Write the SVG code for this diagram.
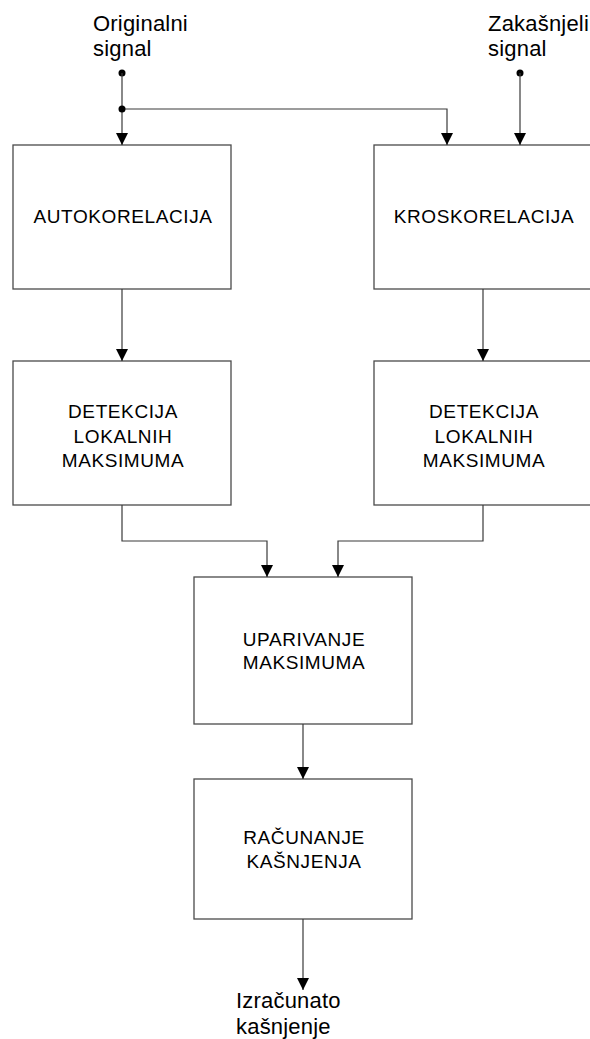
<svg xmlns="http://www.w3.org/2000/svg" width="590" height="1039" viewBox="0 0 590 1039">
  <style>
    .box { fill: #ffffff; stroke: #4a4a4a; stroke-width: 1.3; }
    .lbl { font-family: "Liberation Sans", Arial, sans-serif; font-size: 19px; letter-spacing: 0.6px; fill: #000; text-anchor: middle; }
    .io { font-family: "Liberation Sans", Arial, sans-serif; font-size: 22px; letter-spacing: 0.2px; fill: #000; }
    .wire { fill: none; stroke: #3a3a3a; stroke-width: 1.2; }
    .dot { fill: #000; }
  </style>
  <defs>
    <marker id="arrow" markerUnits="userSpaceOnUse" markerWidth="12" markerHeight="14" refX="12" refY="6" orient="auto">
      <path d="M0,0 L12,6 L0,12 Z" fill="#000"/>
    </marker>
  </defs>
  <rect width="590" height="1039" fill="#ffffff"/>

  <!-- input / output labels -->
  <g id="in-original">
    <text class="io" x="93" y="31">Originalni</text>
    <text class="io" x="93" y="56">signal</text>
    <circle class="dot" cx="122" cy="73" r="3.5"/>
  </g>
  <g id="in-delayed">
    <text class="io" x="488" y="31">Zakašnjeli</text>
    <text class="io" x="488" y="56">signal</text>
    <circle class="dot" cx="520" cy="73" r="3.5"/>
  </g>
  <g id="out-delay">
    <text class="io" x="236" y="1008">Izračunato</text>
    <text class="io" x="236" y="1034">kašnjenje</text>
  </g>

  <!-- processing blocks -->
  <g id="autokorelacija">
    <rect class="box" x="13" y="145" width="218" height="144"/>
    <text class="lbl" x="123" y="223">AUTOKORELACIJA</text>
  </g>
  <g id="kroskorelacija">
    <rect class="box" x="374" y="145" width="218" height="144"/>
    <text class="lbl" x="484" y="223">KROSKORELACIJA</text>
  </g>
  <g id="detekcija-a">
    <rect class="box" x="13" y="361" width="218" height="144"/>
    <text class="lbl" x="123" y="418">DETEKCIJA</text>
    <text class="lbl" x="123" y="443">LOKALNIH</text>
    <text class="lbl" x="123" y="467">MAKSIMUMA</text>
  </g>
  <g id="detekcija-k">
    <rect class="box" x="374" y="361" width="218" height="144"/>
    <text class="lbl" x="484" y="418">DETEKCIJA</text>
    <text class="lbl" x="484" y="443">LOKALNIH</text>
    <text class="lbl" x="484" y="467">MAKSIMUMA</text>
  </g>
  <g id="uparivanje">
    <rect class="box" x="194" y="577" width="218" height="147"/>
    <text class="lbl" x="304" y="646">UPARIVANJE</text>
    <text class="lbl" x="304" y="669">MAKSIMUMA</text>
  </g>
  <g id="racunanje">
    <rect class="box" x="194" y="779" width="218" height="140"/>
    <text class="lbl" x="304" y="844">RAČUNANJE</text>
    <text class="lbl" x="304" y="868">KAŠNJENJA</text>
  </g>

  <!-- connectors -->
  <g id="connectors">
    <path class="wire" d="M122,73 V145" marker-end="url(#arrow)"/>
    <path class="wire" d="M122,109 H447 V145" marker-end="url(#arrow)"/>
    <circle class="dot" cx="122" cy="109" r="3.5"/>
    <path class="wire" d="M520,73 V145" marker-end="url(#arrow)"/>
    <path class="wire" d="M122,289 V361" marker-end="url(#arrow)"/>
    <path class="wire" d="M483,289 V361" marker-end="url(#arrow)"/>
    <path class="wire" d="M122,505 V541 H267 V577" marker-end="url(#arrow)"/>
    <path class="wire" d="M483,505 V541 H338 V577" marker-end="url(#arrow)"/>
    <path class="wire" d="M303,724 V779" marker-end="url(#arrow)"/>
    <path class="wire" d="M303,919 V990" marker-end="url(#arrow)"/>
  </g>
</svg>
